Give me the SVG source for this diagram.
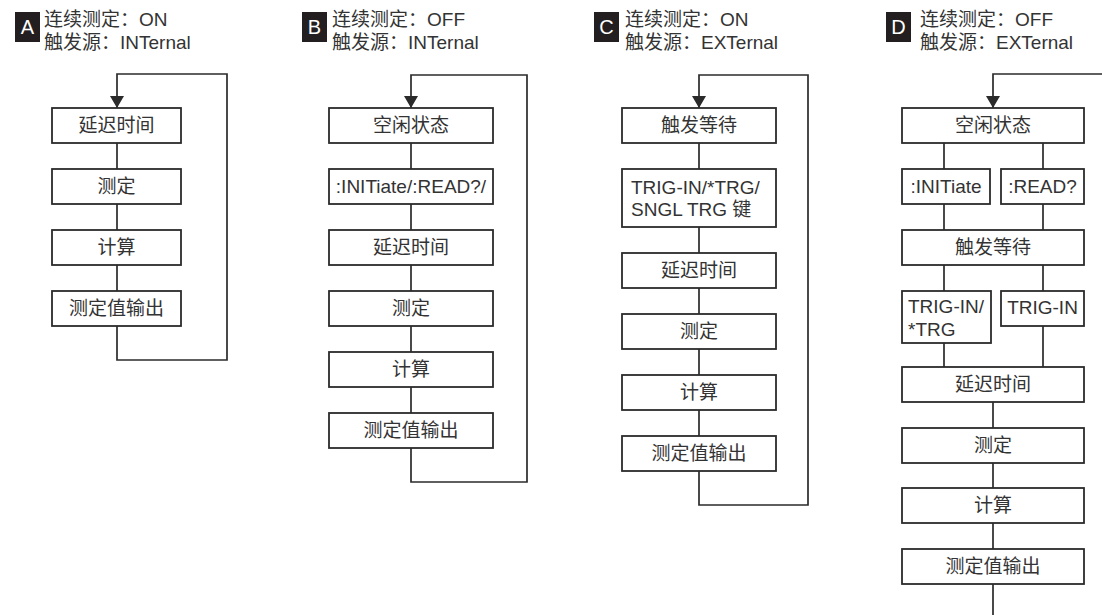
<svg xmlns="http://www.w3.org/2000/svg" width="1102" height="615" viewBox="0 0 1102 615">
<defs>
<marker id="arr" markerUnits="userSpaceOnUse" viewBox="0 0 12 14" markerWidth="12" markerHeight="14" refX="12" refY="7" orient="auto">
<path d="M0,0 L12,7 L0,14 z" fill="#2b2b2b"/>
</marker>
</defs>
<style>
text{font-family:"Liberation Sans","Noto Sans CJK SC",sans-serif;fill:#333}
.box{fill:#fff;stroke:#2b2b2b;stroke-width:1.8}
.t{font-size:19px;text-anchor:middle}
.tl{font-size:19px}
.h{font-size:19px}
.lb{fill:#231f20}
.lt{font-size:20px;fill:#fff;text-anchor:middle}
.c{fill:none;stroke:#2b2b2b;stroke-width:1.7}
</style>

<g id="connectors">
<!-- A -->
<path class="c" d="M117,326 V360 H227 V74 H117 V108" marker-end="url(#arr)"/>
<path class="c" d="M117,143 V169 M117,204 V230 M117,265 V291"/>
<!-- B -->
<path class="c" d="M411,448 V482 H527 V75 H411 V108" marker-end="url(#arr)"/>
<path class="c" d="M411,143 V169 M411,204 V230 M411,265 V291 M411,326 V352 M411,387 V413"/>
<!-- C -->
<path class="c" d="M699,471 V505 H808 V75 H699 V108" marker-end="url(#arr)"/>
<path class="c" d="M699,143 V169 M699,227 V253 M699,288 V314 M699,349 V375 M699,410 V436"/>
<!-- D -->
<path class="c" d="M1102,74 H993 V108" marker-end="url(#arr)"/>
<path class="c" d="M944,143 V169 M1043,143 V169 M944,204 V230 M1043,204 V230 M944,265 V291 M1043,265 V291 M944,343 V367 M1043,326 V367 M993,402 V428 M993,463 V488 M993,523 V549 M993,584 V615"/>
</g>

<!-- Panel A -->
<g id="labelA">
<rect class="lb" x="15" y="12" width="25" height="30"/>
<text class="lt" x="27.5" y="34">A</text>
<text class="h" x="44" y="26">连续测定：ON</text>
<text class="h" x="44" y="49">触发源：INTernal</text>
</g>
<g id="A1"><rect class="box" x="52" y="108" width="129" height="35"/><text class="t" x="116.5" y="132">延迟时间</text></g>
<g id="A2"><rect class="box" x="52" y="169" width="129" height="35"/><text class="t" x="116.5" y="193">测定</text></g>
<g id="A3"><rect class="box" x="52" y="230" width="129" height="35"/><text class="t" x="116.5" y="254">计算</text></g>
<g id="A4"><rect class="box" x="52" y="291" width="129" height="35"/><text class="t" x="116.5" y="315">测定值输出</text></g>

<!-- Panel B -->
<g id="labelB">
<rect class="lb" x="302" y="12" width="25" height="30"/>
<text class="lt" x="314.5" y="34">B</text>
<text class="h" x="332" y="26">连续测定：OFF</text>
<text class="h" x="332" y="49">触发源：INTernal</text>
</g>
<g id="B1"><rect class="box" x="329" y="108" width="164" height="35"/><text class="t" x="411" y="132">空闲状态</text></g>
<g id="B2"><rect class="box" x="329" y="169" width="164" height="35"/><text class="t" x="411" y="193">:INITiate/:READ?/</text></g>
<g id="B3"><rect class="box" x="329" y="230" width="164" height="35"/><text class="t" x="411" y="254">延迟时间</text></g>
<g id="B4"><rect class="box" x="329" y="291" width="164" height="35"/><text class="t" x="411" y="315">测定</text></g>
<g id="B5"><rect class="box" x="329" y="352" width="164" height="35"/><text class="t" x="411" y="376">计算</text></g>
<g id="B6"><rect class="box" x="329" y="413" width="164" height="35"/><text class="t" x="411" y="437">测定值输出</text></g>

<!-- Panel C -->
<g id="labelC">
<rect class="lb" x="594" y="12" width="25" height="30"/>
<text class="lt" x="606.5" y="34">C</text>
<text class="h" x="625" y="26">连续测定：ON</text>
<text class="h" x="625" y="49">触发源：EXTernal</text>
</g>
<g id="C1"><rect class="box" x="622" y="108" width="154" height="35"/><text class="t" x="699" y="132">触发等待</text></g>
<g id="C2"><rect class="box" x="622" y="169" width="154" height="58"/><text class="tl" x="631" y="194">TRIG-IN/*TRG/</text><text class="tl" x="631" y="216">SNGL TRG 键</text></g>
<g id="C3"><rect class="box" x="622" y="253" width="154" height="35"/><text class="t" x="699" y="277">延迟时间</text></g>
<g id="C4"><rect class="box" x="622" y="314" width="154" height="35"/><text class="t" x="699" y="338">测定</text></g>
<g id="C5"><rect class="box" x="622" y="375" width="154" height="35"/><text class="t" x="699" y="399">计算</text></g>
<g id="C6"><rect class="box" x="622" y="436" width="154" height="35"/><text class="t" x="699" y="460">测定值输出</text></g>

<!-- Panel D -->
<g id="labelD">
<rect class="lb" x="886" y="12" width="25" height="30"/>
<text class="lt" x="898.5" y="34">D</text>
<text class="h" x="920" y="26">连续测定：OFF</text>
<text class="h" x="920" y="49">触发源：EXTernal</text>
</g>
<g id="D1"><rect class="box" x="902" y="108" width="182" height="35"/><text class="t" x="993" y="132">空闲状态</text></g>
<g id="D2a"><rect class="box" x="902" y="169" width="88" height="35"/><text class="t" x="946" y="193">:INITiate</text></g>
<g id="D2b"><rect class="box" x="1001" y="169" width="83" height="35"/><text class="t" x="1042.5" y="193">:READ?</text></g>
<g id="D3"><rect class="box" x="902" y="230" width="182" height="35"/><text class="t" x="993" y="254">触发等待</text></g>
<g id="D4a"><rect class="box" x="902" y="291" width="89" height="52"/><text class="tl" x="908" y="313">TRIG-IN/</text><text class="tl" x="908" y="336">*TRG</text></g>
<g id="D4b"><rect class="box" x="1001" y="291" width="83" height="35"/><text class="t" x="1042.5" y="314">TRIG-IN</text></g>
<g id="D5"><rect class="box" x="902" y="367" width="182" height="35"/><text class="t" x="993" y="391">延迟时间</text></g>
<g id="D6"><rect class="box" x="902" y="428" width="182" height="35"/><text class="t" x="993" y="452">测定</text></g>
<g id="D7"><rect class="box" x="902" y="488" width="182" height="35"/><text class="t" x="993" y="512">计算</text></g>
<g id="D8"><rect class="box" x="902" y="549" width="182" height="35"/><text class="t" x="993" y="573">测定值输出</text></g>
</svg>
